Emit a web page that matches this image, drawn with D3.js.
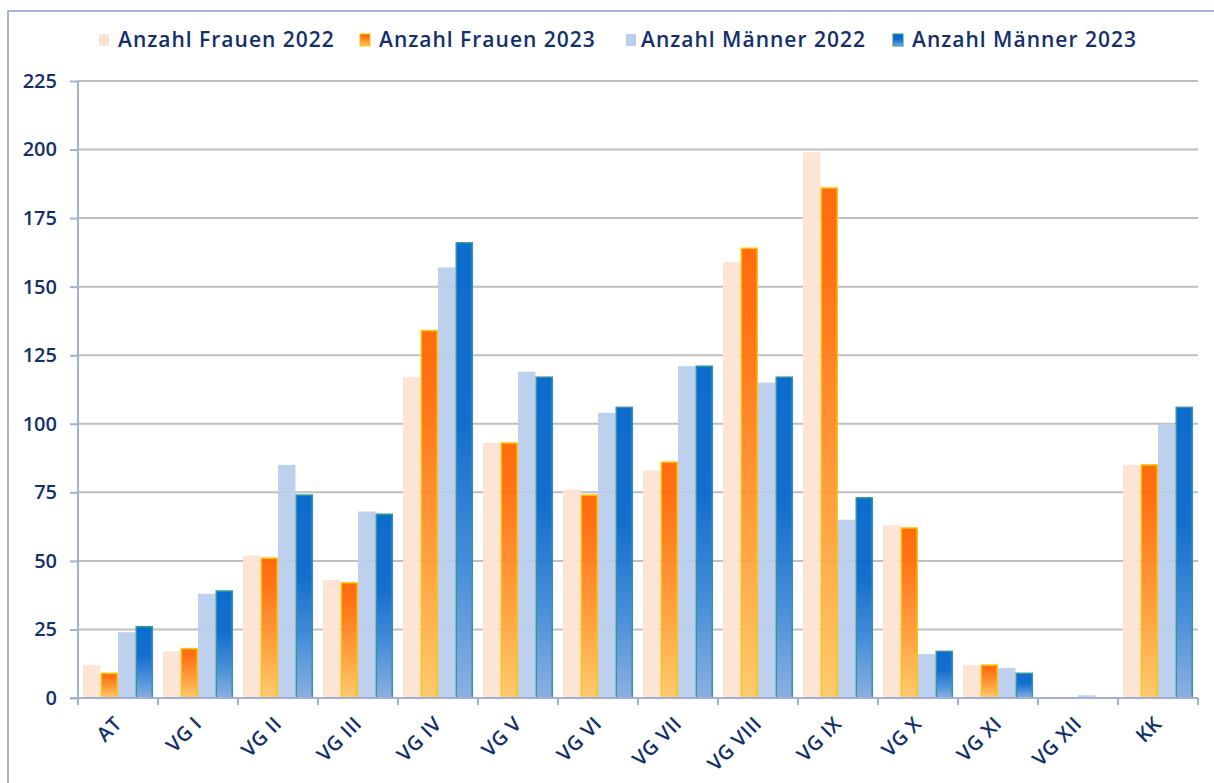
<!DOCTYPE html>
<html>
<head>
<meta charset="utf-8">
<script src="https://cdn.jsdelivr.net/npm/d3@7"></script>
<style>
  html, body { margin: 0; padding: 0; background: #fff; }
  svg text { font-family: "Open Sans", "Noto Sans", sans-serif; fill: #14306b; }
</style>
</head>
<body>
<div id="chart"></div>
<script>
// categories and series
const categories = ["AT", "VG I", "VG II", "VG III", "VG IV", "VG V", "VG VI", "VG VII", "VG VIII", "VG IX", "VG X", "VG XI", "VG XII", "KK"];
const seriesNames = ["Anzahl Frauen 2022", "Anzahl Frauen 2023", "Anzahl Männer 2022", "Anzahl Männer 2023"];
const frauen2022 = [12, 17, 52, 43, 117, 93, 76, 83, 159, 199, 63, 12, 0, 85];
const frauen2023 = [9, 18, 51, 42, 134, 93, 74, 86, 164, 186, 62, 12, 0, 85];
const maenner2022 = [24, 38, 85, 68, 157, 119, 104, 121, 115, 65, 16, 11, 1, 100];
const maenner2023 = [26, 39, 74, 67, 166, 117, 106, 121, 117, 73, 17, 9, 0, 106];
const yTicks = [0, 25, 50, 75, 100, 125, 150, 175, 200, 225];

const W = 1214, H = 783;
const plotLeft = 78, plotRight = 1198, plotTop = 81, plotBottom = 698;

const svg = d3.select("#chart").append("svg").attr("width", W).attr("height", H);
const defs = svg.append("defs");

// gradients for the 2023 bars
const gF = defs.append("linearGradient").attr("id", "gradF").attr("x1", 0).attr("y1", 0).attr("x2", 0).attr("y2", 1);
gF.append("stop").attr("offset", "0").attr("stop-color", "#ff6600");
gF.append("stop").attr("offset", "0.15").attr("stop-color", "#ff6b08");
gF.append("stop").attr("offset", "0.6").attr("stop-color", "#fe9a35");
gF.append("stop").attr("offset", "1").attr("stop-color", "#fdc966");

const gM = defs.append("linearGradient").attr("id", "gradM").attr("x1", 0).attr("y1", 0).attr("x2", 0).attr("y2", 1);
gM.append("stop").attr("offset", "0").attr("stop-color", "#0066cc");
gM.append("stop").attr("offset", "0.4").attr("stop-color", "#0867cc");
gM.append("stop").attr("offset", "0.7").attr("stop-color", "#3c87d8");
gM.append("stop").attr("offset", "1").attr("stop-color", "#86ace0");

const styles = [
  { fill: "#fee3d2", stroke: "none" },
  { fill: "url(#gradF)", stroke: "#ffc000" },
  { fill: "#b9cfee", stroke: "none" },
  { fill: "url(#gradM)", stroke: "#2a9099" }
];

// frame
svg.append("path").attr("d", "M8," + H + " V11 H" + W)
  .attr("fill", "none").attr("stroke", "#8c9dcc").attr("stroke-width", 1.5);

const x0 = d3.scaleBand().domain(categories).range([plotLeft, plotRight]).paddingInner(0.125).paddingOuter(0.0625);
const x1 = d3.scaleBand().domain(d3.range(4)).range([0, x0.bandwidth()]);
const y = d3.scaleLinear().domain([0, 225]).range([plotBottom, plotTop]);

// gridlines
svg.append("g").selectAll("line").data(yTicks.filter(d => d > 0)).enter().append("line")
  .attr("x1", plotLeft).attr("x2", plotRight)
  .attr("y1", d => y(d)).attr("y2", d => y(d))
  .attr("stroke", "#bfbfbf").attr("stroke-width", 2);

// bars
const rows = categories.map((c, i) => ({ cat: c, vals: [frauen2022[i], frauen2023[i], maenner2022[i], maenner2023[i]] }));
const groups = svg.append("g").selectAll("g").data(rows).enter().append("g")
  .attr("transform", d => "translate(" + x0(d.cat) + ",0)");
groups.selectAll("rect").data(d => d.vals.map((v, k) => ({ v: v, k: k })).filter(d => d.v > 0)).enter().append("rect")
  .attr("x", d => x1(d.k) + (styles[d.k].stroke === "none" ? 0 : 0.75))
  .attr("y", d => y(d.v))
  .attr("width", d => x1.bandwidth() - (styles[d.k].stroke === "none" ? 0 : 1.5))
  .attr("height", d => y(0) - y(d.v))
  .attr("fill", d => styles[d.k].fill)
  .attr("stroke", d => styles[d.k].stroke)
  .attr("stroke-width", 1.5)
  .attr("opacity", 0.95);

// y axis
const yAxis = svg.append("g").attr("transform", "translate(" + plotLeft + ",0)")
  .call(d3.axisLeft(y).tickValues(yTicks).tickSize(8).tickPadding(13));
yAxis.select(".domain").attr("d", "M0," + plotTop + "V" + (plotBottom + 7)).attr("stroke", "#a3afd4").attr("stroke-width", 2);
yAxis.selectAll(".tick line").attr("stroke", "#a3afd4").attr("stroke-width", 2);
yAxis.selectAll(".tick text").attr("fill", "#14306b").style("font-size", "20px").style("font-weight", 600)
  .style("font-family", "'Open Sans', sans-serif");

// x axis baseline and boundary ticks
svg.append("line").attr("x1", plotLeft - 8).attr("x2", plotRight).attr("y1", plotBottom).attr("y2", plotBottom)
  .attr("stroke", "#a3afd4").attr("stroke-width", 2);
const step = x0.step();
svg.append("g").selectAll("line").data(d3.range(categories.length + 1)).enter().append("line")
  .attr("x1", i => plotLeft + i * step).attr("x2", i => plotLeft + i * step)
  .attr("y1", plotBottom).attr("y2", plotBottom + 7)
  .attr("stroke", "#a3afd4").attr("stroke-width", 2);

// x labels, rotated
svg.append("g").selectAll("text").data(categories).enter().append("text")
  .attr("transform", d => "translate(" + (x0(d) + x0.bandwidth() / 2 + 5) + "," + (plotBottom + 27) + ") rotate(-45)")
  .attr("text-anchor", "end")
  .style("font-size", "20px").style("font-weight", 600).style("letter-spacing", "0.5px")
  .text(d => d);

// legend
const legendX = [99, 360, 626, 893];
const legend = svg.append("g").selectAll("g").data(seriesNames).enter().append("g")
  .attr("transform", (d, i) => "translate(" + legendX[i] + ",33)");
legend.append("rect").attr("width", 10).attr("height", 12).attr("y", 1)
  .attr("fill", (d, i) => styles[i].fill)
  .attr("stroke", (d, i) => i === 1 ? "#ffc000" : (i === 3 ? "#2a9099" : "none"))
  .attr("stroke-width", 1);
legend.append("text").attr("x", (d, i) => i === 2 ? 15 : 19).attr("y", 14)
  .style("font-size", "21px").style("font-weight", 600).style("letter-spacing", "1px")
  .text(d => d);
</script>
</body>
</html>
